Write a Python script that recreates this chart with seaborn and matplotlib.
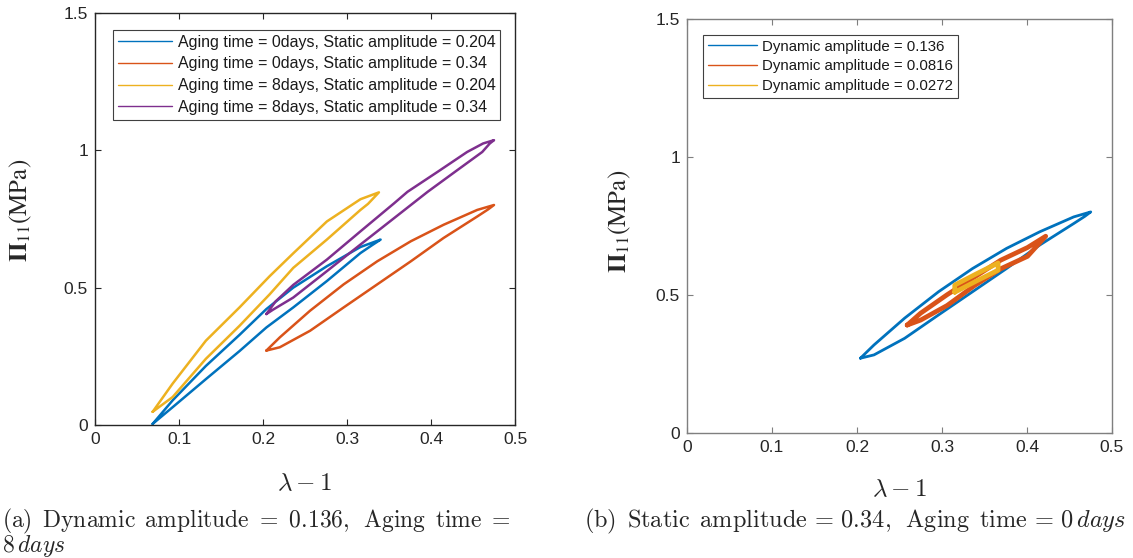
import matplotlib
matplotlib.use("Agg")
import matplotlib.pyplot as plt
import pandas as pd
import seaborn as sns
from matplotlib.ticker import FixedLocator, FuncFormatter

# ---------------- data ----------------
# (a) Dynamic amplitude = 0.136 ; closed hysteresis loops (upper branch then lower branch)
a_0d_0204_x = [0.0686, 0.0925, 0.132, 0.172, 0.204, 0.236, 0.276, 0.316, 0.340,
               0.330, 0.316, 0.276, 0.236, 0.204, 0.172, 0.132, 0.0925, 0.0686]
a_0d_0204_y = [0.004, 0.090, 0.215, 0.328, 0.422, 0.500, 0.578, 0.648, 0.675,
               0.655, 0.626, 0.524, 0.428, 0.355, 0.269, 0.167, 0.065, 0.004]

a_0d_034_x = [0.204, 0.220, 0.256, 0.296, 0.336, 0.376, 0.415, 0.455, 0.475,
              0.468, 0.455, 0.415, 0.376, 0.336, 0.296, 0.256, 0.220, 0.204]
a_0d_034_y = [0.271, 0.319, 0.416, 0.512, 0.596, 0.669, 0.729, 0.783, 0.801,
              0.785, 0.759, 0.681, 0.596, 0.512, 0.428, 0.343, 0.283, 0.271]

a_8d_0204_x = [0.0686, 0.0925, 0.132, 0.172, 0.208, 0.236, 0.276, 0.316, 0.338,
               0.325, 0.316, 0.276, 0.236, 0.208, 0.172, 0.132, 0.0925, 0.0686]
a_8d_0204_y = [0.048, 0.151, 0.307, 0.428, 0.542, 0.625, 0.741, 0.822, 0.847,
               0.805, 0.783, 0.675, 0.572, 0.476, 0.361, 0.241, 0.102, 0.048]

a_8d_034_x = [0.204, 0.215, 0.236, 0.276, 0.316, 0.356, 0.372, 0.408, 0.443, 0.462, 0.475,
              0.470, 0.461, 0.430, 0.396, 0.356, 0.316, 0.276, 0.236, 0.212, 0.204]
a_8d_034_y = [0.404, 0.450, 0.510, 0.602, 0.705, 0.807, 0.849, 0.922, 0.994, 1.025, 1.037,
              1.025, 0.994, 0.925, 0.849, 0.753, 0.657, 0.560, 0.464, 0.420, 0.404]

# (b) Static amplitude = 0.34, Aging time = 0 days
b_dyn0136_x = a_0d_034_x
b_dyn0136_y = a_0d_034_y

b_dyn00816_x = [0.259, 0.2748, 0.306, 0.3377, 0.369, 0.4006, 0.422,
                0.4006, 0.369, 0.3377, 0.306, 0.2748, 0.259]
b_dyn00816_y = [0.391, 0.434, 0.501, 0.564, 0.626, 0.672, 0.713,
                0.640, 0.595, 0.533, 0.462, 0.409, 0.391]

b_dyn00272_x = [0.315, 0.315, 0.340, 0.366, 0.366, 0.340, 0.315]
b_dyn00272_y = [0.510, 0.536, 0.576, 0.616, 0.590, 0.550, 0.510]

labels_a = ["Aging time = 0days, Static amplitude = 0.204",
            "Aging time = 0days, Static amplitude = 0.34",
            "Aging time = 8days, Static amplitude = 0.204",
            "Aging time = 8days, Static amplitude = 0.34"]
labels_b = ["Dynamic amplitude = 0.136",
            "Dynamic amplitude = 0.0816",
            "Dynamic amplitude = 0.0272"]

x_ticks = [0, 0.1, 0.2, 0.3, 0.4, 0.5]
y_ticks = [0, 0.5, 1, 1.5]

colors = ["#0072BD", "#D95319", "#EDB120", "#7E2F8E"]

# ---------------- style ----------------
sns.set_theme(style="white")
plt.rcParams["font.family"] = ["Liberation Sans", "DejaVu Sans"]
plt.rcParams["mathtext.fontset"] = "cm"

fig = plt.figure(figsize=(11.33, 5.58), dpi=100)
W, H = 1133, 558
axL = fig.add_axes([95 / W, 1 - 425 / H, 420 / W, 412 / H])
axR = fig.add_axes([687 / W, 1 - 433 / H, 425 / W, 414 / H])


def draw(ax, xs, ys, label, color, lw):
    df = pd.DataFrame({"x": xs, "y": ys})
    sns.lineplot(data=df, x="x", y="y", sort=False, estimator=None, ax=ax,
                 color=color, linewidth=lw, label=label)


series_a = [(a_0d_0204_x, a_0d_0204_y), (a_0d_034_x, a_0d_034_y),
            (a_8d_0204_x, a_8d_0204_y), (a_8d_034_x, a_8d_034_y)]
for (xs, ys), lab, c in zip(series_a, labels_a, colors):
    draw(axL, xs, ys, lab, c, 1.8)

series_b = [(b_dyn0136_x, b_dyn0136_y, 2.0), (b_dyn00816_x, b_dyn00816_y, 3.4),
            (b_dyn00272_x, b_dyn00272_y, 3.4)]
for (xs, ys, lw), lab, c in zip(series_b, labels_b, colors):
    draw(axR, xs, ys, lab, c, lw)


def style_axes(ax, spine_color):
    ax.set_xlim(0, 0.5)
    ax.set_ylim(0, 1.5)
    ax.xaxis.set_major_locator(FixedLocator(x_ticks))
    ax.yaxis.set_major_locator(FixedLocator(y_ticks))
    fmt = FuncFormatter(lambda v, p: "%g" % v)
    ax.xaxis.set_major_formatter(fmt)
    ax.yaxis.set_major_formatter(fmt)
    for s in ax.spines.values():
        s.set_visible(True)
        s.set_color(spine_color)
        s.set_linewidth(1.0)
    ax.tick_params(axis="both", direction="in", length=4, width=0.8,
                   top=True, right=True, bottom=True, left=True,
                   colors=spine_color, labelcolor="#262626", labelsize=12.5, pad=5)
    ax.set_xlabel(r"$\lambda - 1$", fontsize=18)
    ax.set_ylabel(r"$\mathbf{\Pi}_{11}\mathrm{(MPa)}$", fontsize=18, math_fontfamily="stix")
    ax.grid(False)


style_axes(axL, "#262626")
style_axes(axR, "#7f7f7f")
axL.xaxis.set_label_coords(0.5, -0.112)
axL.yaxis.set_label_coords(-0.145, 0.52)
axR.xaxis.set_label_coords(0.5, -0.106)
axR.yaxis.set_label_coords(-0.128, 0.51)


def make_legend(ax, anchor, fs, hl, ls):
    leg = ax.legend(loc="upper left", bbox_to_anchor=anchor, fontsize=fs,
                    frameon=True, fancybox=False, framealpha=1, edgecolor="#404040",
                    handlelength=hl, handletextpad=0.35, labelspacing=ls,
                    borderpad=0.3, borderaxespad=0)
    leg.get_frame().set_linewidth(0.8)
    for ln in leg.get_lines():
        ln.set_linewidth(1.0)
    for t in leg.get_texts():
        t.set_color("#1a1a1a")
    return leg


make_legend(axL, (0.043, 0.959), 11.5, 3.4, 0.42)
make_legend(axR, (0.038, 0.961), 10.8, 3.3, 0.38)

# captions
fig.text(2 / W, 1 - 527 / H,
         r"$\mathrm{(a)\ \,Dynamic\ \,amplitude}\ =\ \mathrm{0.136,}\ \,\mathrm{Aging}\ \,\mathrm{time}\ =$",
         fontsize=17, va="baseline", ha="left")
fig.text(2 / W, 1 - 552 / H, r"$8\,\mathit{days}$", fontsize=17, va="baseline", ha="left")
fig.text(584 / W, 1 - 527 / H,
         r"$\mathrm{(b)\ \,Static\ \,amplitude}\, = \,\mathrm{0.34,\ \,Aging\ \,time}\, = \,0\,\mathit{days}$",
         fontsize=17.5, va="baseline", ha="left")

fig.savefig("out.png", dpi=100)
